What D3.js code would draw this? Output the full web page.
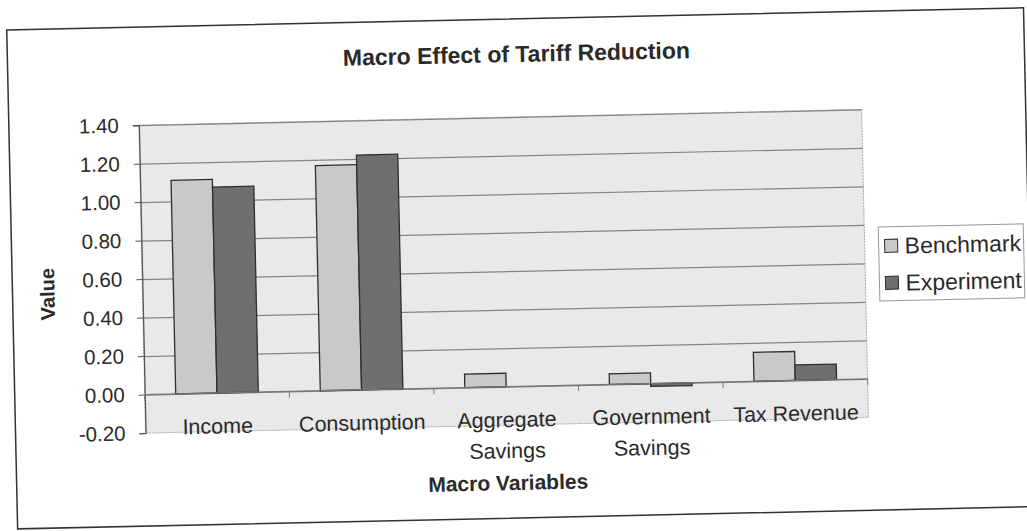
<!DOCTYPE html>
<html>
<head>
<meta charset="utf-8">
<script src="https://cdn.jsdelivr.net/npm/d3@7"></script>
<style>
  body { margin: 0; background: #fff; }
  svg { display: block; font-family: 'Liberation Sans', Arial, sans-serif; }
</style>
</head>
<body>
<div id="chart"></div>
<script>
const categories = ['Income', 'Consumption', 'Aggregate\nSavings', 'Government\nSavings', 'Tax Revenue'];
const seriesNames = ['Benchmark', 'Experiment'];
const benchmark = [1.11, 1.17, 0.07, 0.055, 0.15];
const experiment = [1.07, 1.22, 0.0, -0.015, 0.08];
const yTicks = [-0.2, 0.0, 0.2, 0.4, 0.6, 0.8, 1.0, 1.2, 1.4];

const colors = {Benchmark: '#c9c9c9', Experiment: '#6d706f'};
const textColor = '#2a2a2a';

let width = 1027, height = 531;
let plot = {left: 142, right: 865, top: 117, bottom: 425};

let svg = d3.select('#chart').append('svg')
    .attr('width', width)
    .attr('height', height);

// the scan is slightly tilted
let g = svg.append('g').attr('transform', 'rotate(-1.25,513.5,265.5)');

g.append('rect')
    .attr('x', 12).attr('y', 19)
    .attr('width', 1017).attr('height', 499)
    .attr('fill', '#fff')
    .attr('stroke', '#333')
    .attr('stroke-width', 1.5);

let x = d3.scaleBand()
    .domain(d3.range(categories.length))
    .range([plot.left, plot.right])
    .paddingInner(0.4286)
    .paddingOuter(0.2143);
let xs = d3.scaleBand().domain(seriesNames).range([0, x.bandwidth()]);
let y = d3.scaleLinear().domain([-0.2, 1.4]).range([plot.bottom, plot.top]);

// plot area
g.append('rect')
    .attr('x', plot.left).attr('y', plot.top)
    .attr('width', plot.right - plot.left)
    .attr('height', plot.bottom - plot.top)
    .attr('fill', '#e9e9e9')
    .attr('stroke', '#a8a8a8')
    .attr('stroke-dasharray', '2,1');

// gridlines
g.append('g')
    .attr('transform', 'translate(' + plot.left + ',0)')
    .call(d3.axisLeft(y).tickValues(yTicks.filter(d => d > -0.2)).tickSize(-(plot.right - plot.left)).tickFormat(''))
    .call(a => a.select('.domain').remove())
    .selectAll('.tick line')
    .attr('stroke', '#858585')
    .attr('stroke-width', 1.2);

// value axis
let yAxis = g.append('g')
    .attr('transform', 'translate(' + plot.left + ',0)')
    .call(d3.axisLeft(y).tickValues(yTicks).tickSize(6).tickPadding(14).tickFormat(d => d.toFixed(2)));
yAxis.select('.domain').attr('stroke', '#555').attr('stroke-width', 1.3);
yAxis.selectAll('.tick line').attr('stroke', '#555');
yAxis.selectAll('.tick text')
    .attr('fill', textColor)
    .style('font-size', '20.5px');

// bars
let series = [benchmark, experiment];
series.forEach(function(vals, s) {
    let name = seriesNames[s];
    g.append('g').selectAll('rect')
        .data(vals.filter(d => d !== 0).map(d => ({v: d, i: vals.indexOf(d)})))
        .join('rect')
        .attr('x', d => x(d.i) + xs(name))
        .attr('y', d => y(Math.max(d.v, 0)))
        .attr('width', xs.bandwidth())
        .attr('height', d => Math.abs(y(d.v) - y(0)))
        .attr('fill', colors[name])
        .attr('stroke', '#2e2e2e')
        .attr('stroke-width', 1.3);
});

// category axis at zero
let zero = y(0);
g.append('line')
    .attr('x1', plot.left).attr('x2', plot.right)
    .attr('y1', zero).attr('y2', zero)
    .attr('stroke', '#777')
    .attr('stroke-width', 1.2);
g.append('g').selectAll('line')
    .data(d3.range(categories.length + 1))
    .join('line')
    .attr('x1', i => plot.left + i * x.step())
    .attr('x2', i => plot.left + i * x.step())
    .attr('y1', zero).attr('y2', zero + 6)
    .attr('stroke', '#777');

let labels = g.append('g').selectAll('text')
    .data(categories)
    .join('text')
    .attr('x', (d, i) => x(i) + x.bandwidth() / 2)
    .attr('y', 427)
    .attr('text-anchor', 'middle')
    .attr('fill', textColor)
    .style('font-size', '21.5px');
labels.each(function(d, i) {
    let t = d3.select(this);
    d.split('\n').forEach(function(line, k) {
        t.append('tspan')
            .attr('x', x(i) + x.bandwidth() / 2)
            .attr('dy', k === 0 ? 0 : 31)
            .text(line);
    });
});

// titles
g.append('text')
    .attr('x', 521).attr('y', 62)
    .attr('text-anchor', 'middle')
    .attr('fill', textColor)
    .style('font-size', '23px')
    .style('font-weight', 'bold')
    .text('Macro Effect of Tariff Reduction');

g.append('text')
    .attr('transform', 'translate(47,284) rotate(-90)')
    .attr('text-anchor', 'middle')
    .attr('dy', '0.35em')
    .attr('fill', textColor)
    .style('font-size', '20px')
    .style('font-weight', 'bold')
    .text('Value');

g.append('text')
    .attr('x', (plot.left + plot.right) / 2).attr('y', 490)
    .attr('text-anchor', 'middle')
    .attr('fill', textColor)
    .style('font-size', '21px')
    .style('font-weight', 'bold')
    .text('Macro Variables');

// legend
let legend = g.append('g');
legend.append('rect')
    .attr('x', 879).attr('y', 235)
    .attr('width', 145).attr('height', 74)
    .attr('fill', '#fff')
    .attr('stroke', '#999');
let items = legend.selectAll('g.item')
    .data(seriesNames)
    .join('g')
    .attr('class', 'item')
    .attr('transform', (d, i) => 'translate(885,' + (254 + i * 37) + ')');
items.append('rect')
    .attr('x', 0).attr('y', -6.5)
    .attr('width', 13).attr('height', 13)
    .attr('fill', d => colors[d])
    .attr('stroke', '#2e2e2e');
items.append('text')
    .attr('x', 20)
    .attr('dy', '0.35em')
    .attr('fill', textColor)
    .style('font-size', '23px')
    .text(d => d);
</script>
</body>
</html>
